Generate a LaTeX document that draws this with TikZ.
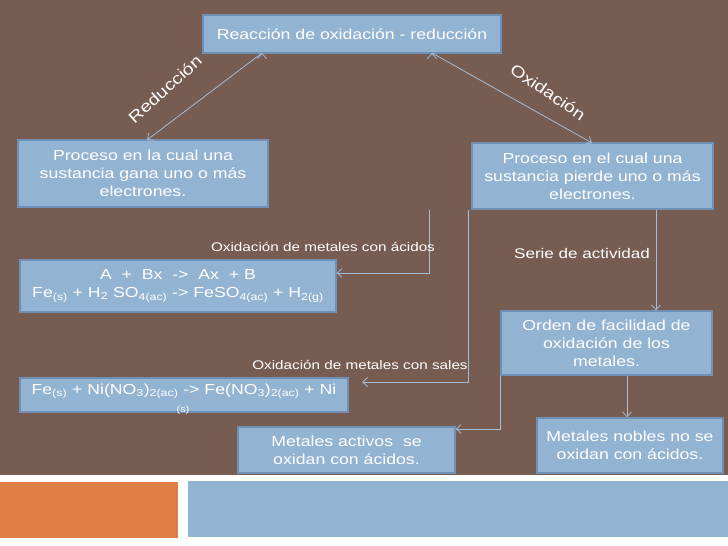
\documentclass[tikz,border=0pt]{standalone}
\usepackage{fontspec}
\setmainfont[FakeStretch=1.22]{Liberation Sans}
\usepackage{xcolor}
\usetikzlibrary{arrows.meta}
\definecolor{brownbg}{HTML}{765C51}
\definecolor{boxblue}{HTML}{93B3D3}
\definecolor{boxline}{HTML}{6F90B6}
\definecolor{linkblue}{HTML}{A3BDD6}
\definecolor{orangebar}{HTML}{E07F45}
\tikzset{
  box/.style={draw=boxline, line width=1.2pt, fill=boxblue, text=white, align=center, inner sep=1pt,
    font=\fontsize{14.5}{18}\selectfont},
  tag/.style={text=white, font=\fontsize{12.5}{14}\selectfont, inner sep=1pt},
  link/.style={draw=linkblue, line width=0.8pt, -{Straight Barb[length=5pt,width=9pt]}},
}
\begin{document}
\begin{tikzpicture}[x=1pt,y=-1pt]
            \useasboundingbox (0,0) rectangle (728,546);
            \fill[brownbg] (0,0) rectangle (728,475);
            \fill[orangebar] (0,482) rectangle (178,538);
            \fill[boxblue] (188,481) rectangle (728,537);

            \node[box, minimum width=298pt, minimum height=38pt] (top) at (352,34) {Reacción de oxidación - reducción};
            \node[box, minimum width=250pt, minimum height=67pt] (gana) at (143,173.5) {Proceso en la cual una\\sustancia gana uno o más\\electrones.};
            \node[box, minimum width=241pt, minimum height=66pt] (pierde) at (592.5,176) {Proceso en el cual una\\sustancia pierde uno o más\\electrones.};
            \node[box, minimum width=316pt, minimum height=52pt] (acidos) at (178,286) {A \ + \ Bx \ -> \ Ax \ + B\\Fe\textsubscript{(s)} + H\textsubscript{2} SO\textsubscript{4(ac)} -> FeSO\textsubscript{4(ac)} + H\textsubscript{2(g)}};
            \node[box, minimum width=328pt, minimum height=34pt] (sales) at (184,395) {};
            \node[text=white, font=\fontsize{14.5}{18}\selectfont, inner sep=0pt] (salestxt) at (184,391) {Fe\textsubscript{(s)} + Ni(NO\textsubscript{3})\textsubscript{2(ac)} -> Fe(NO\textsubscript{3})\textsubscript{2(ac)} + Ni};
            \node[text=white, font=\fontsize{9}{10}\selectfont, inner sep=0pt] (salesub) at (183,410) {(s)};
            \node[box, minimum width=211pt, minimum height=64pt] (orden) at (606.5,343) {Orden de facilidad de\\oxidación de los\\metales.};
            \node[box, minimum width=217pt, minimum height=46pt] (activos) at (346.5,450) {Metales activos \ se\\oxidan con ácidos.};
            \node[box, minimum width=186pt, minimum height=55pt] (nobles) at (630,445.5) {Metales nobles no se\\oxidan con ácidos.};

            \coordinate (r0) at (262,53);
            \coordinate (r1) at (147,140);
            \coordinate (o0) at (432,53);
            \coordinate (o1) at (592,143);
            \path [link] (r0) edge (r1);
            \path [link] (o0) edge (o1);
            \node[tag, rotate=42, font=\fontsize{16}{18}\selectfont] (lred) at (165,89) {Reducción};
            \node[tag, rotate=-34, font=\fontsize{16}{18}\selectfont] (loxi) at (548,92) {Oxidación};

            \draw [link] (pierde.south -| 429,0) |- (acidos.east |- 0,273);
            \draw [link] (pierde.south -| 468,0) |- (362,382);
            \draw [link] (pierde.south -| 656,0) -- (orden.north -| 656,0);
            \draw [link] (orden.south west) |- (activos.east |- 0,429);
            \draw [link] (orden.south -| 627,0) -- (nobles.north -| 627,0);

            \node[tag] (lacidos) at (323,247) {Oxidación de metales con ácidos};
            \node[tag] (lsales) at (360,365) {Oxidación de metales con sales};
            \node[tag, font=\fontsize{14}{16}\selectfont] (lserie) at (582,253) {Serie de actividad};
\end{tikzpicture}
\end{document}
